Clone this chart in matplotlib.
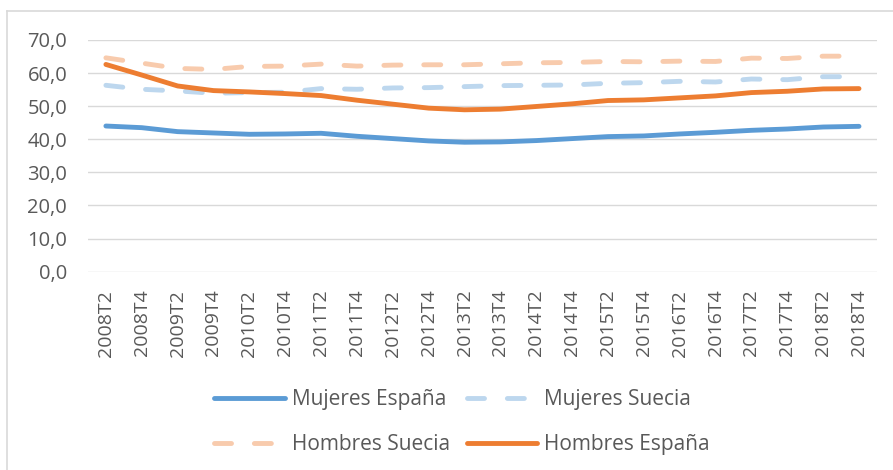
import matplotlib
matplotlib.use('Agg')
import matplotlib.pyplot as plt
from matplotlib.lines import Line2D

plt.rcParams['font.family'] = ['Open Sans', 'DejaVu Sans']

periodos = ['2008T2', '2008T4', '2009T2', '2009T4', '2010T2', '2010T4', '2011T2',
            '2011T4', '2012T2', '2012T4', '2013T2', '2013T4', '2014T2', '2014T4',
            '2015T2', '2015T4', '2016T2', '2016T4', '2017T2', '2017T4', '2018T2',
            '2018T4']

mujeres_espana = [44.0, 43.5, 42.3, 41.9, 41.5, 41.6, 41.8, 40.9, 40.2, 39.5, 39.1,
                  39.2, 39.6, 40.2, 40.8, 41.0, 41.6, 42.1, 42.7, 43.1, 43.7, 43.9]
mujeres_suecia = [56.3, 55.1, 54.6, 53.9, 54.1, 54.2, 55.3, 55.1, 55.5, 55.6, 55.9,
                  56.2, 56.3, 56.4, 56.9, 57.1, 57.5, 57.3, 58.2, 58.0, 58.9, 58.9]
hombres_suecia = [64.6, 63.0, 61.4, 61.1, 62.0, 62.1, 62.7, 62.1, 62.4, 62.5, 62.5,
                  62.8, 63.1, 63.2, 63.5, 63.4, 63.6, 63.5, 64.5, 64.4, 65.1, 65.1]
hombres_espana = [62.6, 59.4, 56.1, 54.7, 54.3, 53.8, 53.2, 51.8, 50.6, 49.4, 48.9,
                  49.1, 49.9, 50.7, 51.7, 51.9, 52.5, 53.1, 54.1, 54.5, 55.2, 55.3]

fig = plt.figure(figsize=(8.93, 4.70), dpi=100)
ax = fig.add_axes([0.0985, 0.422, 0.8835, 0.493])

x = range(len(periodos))
lw = 3.5
dash = (0, (3.5, 4.7))
l_me, = ax.plot(x, mujeres_espana, color='#5B9BD5', lw=lw, solid_capstyle='round')
l_ms, = ax.plot(x, mujeres_suecia, color='#BDD7EE', lw=lw, linestyle=dash,
                dash_capstyle='round')
l_hs, = ax.plot(x, hombres_suecia, color='#F8CBAD', lw=lw, linestyle=dash,
                dash_capstyle='round')
l_he, = ax.plot(x, hombres_espana, color='#ED7D31', lw=lw, solid_capstyle='round')

ax.set_xlim(-0.5, len(periodos) - 0.5)
ax.set_ylim(0, 70)
ax.set_yticks(range(0, 71, 10))
ax.set_yticklabels([f'{v},0' for v in range(0, 71, 10)])
ax.set_xticks(list(x))
ax.set_xticklabels(periodos, rotation=90)
ax.grid(axis='y', color='#D9D9D9', lw=1.0)
ax.set_axisbelow(True)
for s in ax.spines.values():
    s.set_visible(False)
ax.tick_params(axis='y', length=0, pad=15, labelsize=14.5, labelcolor='#595959')
ax.tick_params(axis='x', length=0, pad=13, labelsize=14, labelcolor='#595959')

fig.legend([l_me, l_hs, l_ms, l_he],
           ['Mujeres España', 'Hombres Suecia', 'Mujeres Suecia', 'Hombres España'],
           ncol=2, loc='center', bbox_to_anchor=(462 / 893, 1 - 422 / 470),
           frameon=False, fontsize=15, labelcolor='#595959', handlelength=3.4,
           handletextpad=0.33, columnspacing=0.8, labelspacing=1.15)

# marco del gráfico
fig.add_artist(Line2D([7 / 893, 7 / 893], [0, 1 - 11 / 470], color='#D9D9D9', lw=1.2))
fig.add_artist(Line2D([7 / 893, 1], [1 - 11 / 470, 1 - 11 / 470], color='#D9D9D9', lw=1.2))

fig.savefig('out.png', dpi=100)
